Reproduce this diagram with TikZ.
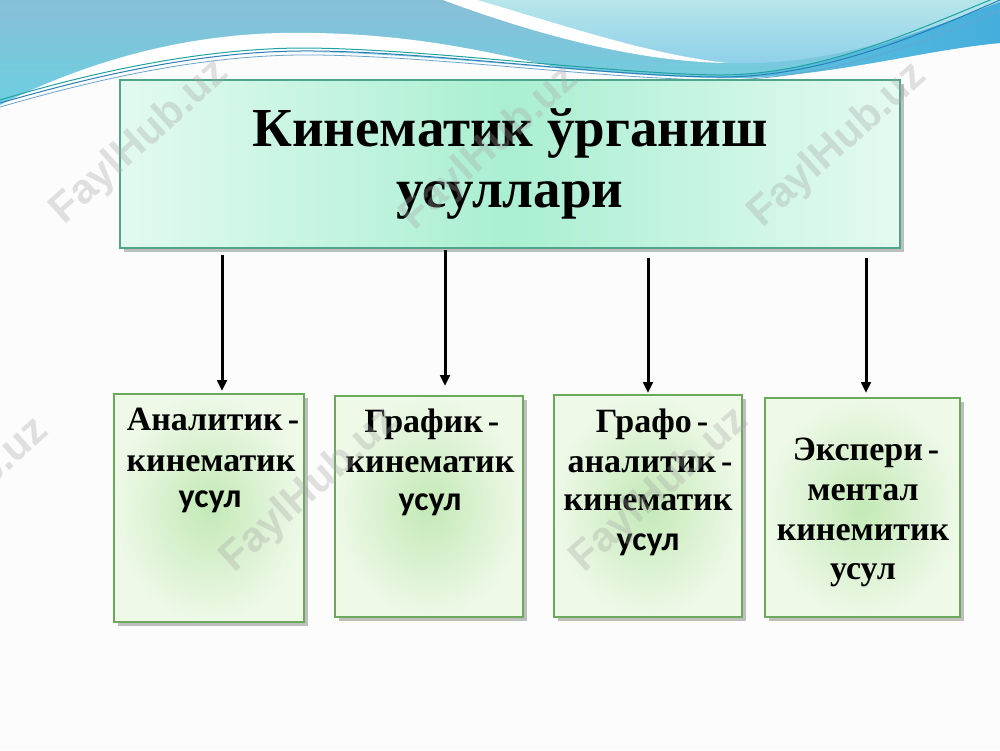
\documentclass[tikz,border=0pt]{standalone}
\usepackage{fontspec}
\setmainfont{Liberation Serif}
\newfontfamily\calfont{Carlito}
\newfontfamily\wmfont{Liberation Sans}
\usetikzlibrary{arrows.meta,shadows}
\definecolor{bgcol}{HTML}{FCFCFC}
\definecolor{waveTop}{HTML}{88BFD8}
\definecolor{waveBot}{HTML}{6CCFE0}
\definecolor{cyanTop}{HTML}{B6E6EA}
\definecolor{cyanBot}{HTML}{8ECFEA}
\definecolor{deepL}{HTML}{62C4DE}
\definecolor{deepR}{HTML}{45AEDC}
\definecolor{lineA}{HTML}{2A7FB8}
\definecolor{lineB}{HTML}{1FA3A0}
\definecolor{mintL}{HTML}{E2FAF0}
\definecolor{mintM}{HTML}{AAEFD2}
\definecolor{mintR}{HTML}{E4FAF1}
\definecolor{titleborder}{HTML}{4FA58A}
\definecolor{boxin}{HTML}{C3E9B6}
\definecolor{boxout}{HTML}{EEF9E8}
\definecolor{boxborder}{HTML}{6AAA5A}
\tikzset{
  titlebox/.style={draw=titleborder, line width=0.8pt, left color=mintL, right color=mintR, middle color=mintM,
    drop shadow={shadow xshift=1.8pt, shadow yshift=-1.8pt, opacity=0.45, fill=black!55}},
  greenbox/.style={draw=boxborder, line width=0.6pt, inner color=boxin, outer color=boxout,
    drop shadow={shadow xshift=1.8pt, shadow yshift=-1.8pt, opacity=0.45, fill=black!55}},
  ttl/.style={font=\fontsize{27.5pt}{30pt}\selectfont\bfseries, anchor=base, inner sep=0pt},
  ser/.style={font=\fontsize{17pt}{20pt}\selectfont\bfseries, anchor=base, inner sep=0pt},
  cal/.style={font=\fontsize{17pt}{20pt}\selectfont\calfont\bfseries, anchor=base, inner sep=0pt},
  arr/.style={line width=1.5pt, -{Triangle[length=5.5pt,width=4.8pt]}},
  wm/.style={font=\fontsize{21pt}{22pt}\selectfont\wmfont\bfseries, text=black!35, opacity=0.33, rotate=42, inner sep=0pt}
}
\begin{document}
\begin{tikzpicture}[x=0.5pt,y=-0.5pt]
\useasboundingbox (0,0) rectangle (1000,750);
\fill[bgcol] (0,0) rectangle (1000,750);
% wave background
\shade[top color=waveTop, bottom color=waveBot]
  (0,0) -- (1000,0) -- (1000,43) .. controls (920,50) and (820,80) .. (717,78)
  .. controls (600,76) and (420,52) .. (300,52) .. controls (180,52) and (60,85) .. (0,105) -- cycle;
\shade[top color=cyanTop, bottom color=cyanBot]
  (465,0) -- (1000,0) -- (1000,3) .. controls (900,40) and (820,66) .. (728,63)
  .. controls (650,55) and (560,25) .. (465,0) -- cycle;
\fill[white] (443,0) -- (477,0) .. controls (560,24) and (650,55) .. (728,63)
  .. controls (640,62) and (540,36) .. (443,0) -- cycle;
\fill[white] (0,105) .. controls (50,80) and (150,36) .. (280,33)
  .. controls (400,31) and (480,50) .. (560,68)
  .. controls (450,58) and (380,51) .. (300,52) .. controls (180,53) and (60,88) .. (0,105) -- cycle;
\shade[left color=deepL, right color=deepR]
  (717,77) .. controls (820,72) and (920,32) .. (1000,2) -- (1000,43)
  .. controls (920,50) and (820,80) .. (717,78) -- cycle;
\draw[lineA, line width=0.5pt] (0,103) .. controls (60,86) and (180,52) .. (300,51)
  .. controls (420,50) and (600,76) .. (717,77) .. controls (820,78) and (920,35) .. (1000,0);
\draw[lineB, line width=0.5pt] (0,100) .. controls (60,82) and (180,49) .. (300,48)
  .. controls (420,48) and (600,73) .. (717,75) .. controls (820,76) and (920,28) .. (1000,-4);
\draw[lineA!70, line width=0.4pt] (0,107) .. controls (60,90) and (180,56) .. (300,55)
  .. controls (420,54) and (600,79) .. (717,80) .. controls (830,80) and (930,40) .. (1000,10);
% title box
\node[titlebox, minimum width=390pt, minimum height=84pt, inner sep=0pt] (title) at (510,164) {};
\node[ttl] (tl1) at (510,146) {Кинематик ўрганиш};
\node[ttl] (tl2) at (510,207) {усуллари};
% boxes
\node[greenbox, minimum width=95pt, minimum height=114pt, inner sep=0pt] (b1) at (209,508) {};
\node[greenbox, minimum width=94pt, minimum height=110.5pt, inner sep=0pt] (b2) at (429,506.5) {};
\node[greenbox, minimum width=94pt, minimum height=111pt, inner sep=0pt] (b3) at (648,506) {};
\node[greenbox, minimum width=97.5pt, minimum height=109.5pt, inner sep=0pt] (b4) at (862.5,507.5) {};
% box texts
\node[ser] (t1a) at (213,430) {Аналитик\hspace{0.15em}-};
\node[ser] (t1b) at (211,471) {кинематик};
\node[cal] (t1c) at (210,507) {усул};
\node[ser] (t2a) at (432,432) {График\hspace{0.15em}-};
\node[ser] (t2b) at (430,472) {кинематик};
\node[cal] (t2c) at (430,510) {усул};
\node[ser] (t3a) at (652,432) {Графо\hspace{0.15em}-};
\node[ser] (t3b) at (650,472) {аналитик\hspace{0.15em}-};
\node[ser] (t3c) at (648,510) {кинематик};
\node[cal] (t3d) at (648,550) {усул};
\node[ser] (t4a) at (866,460) {Экспери\hspace{0.15em}-};
\node[ser] (t4b) at (863,500) {ментал};
\node[ser] (t4c) at (863,540) {кинемитик};
\node[ser] (t4d) at (863,579) {усул};
% arrows
\coordinate (s1) at (222,255); \coordinate (e1) at (222,391);
\coordinate (s2) at (445,250); \coordinate (e2) at (445,386);
\coordinate (s3) at (648,258); \coordinate (e3) at (648,393);
\coordinate (s4) at (866,258); \coordinate (e4) at (866,393);
\draw[arr] (s1) -- (e1);
\draw[arr] (s2) -- (e2);
\draw[arr] (s3) -- (e3);
\draw[arr] (s4) -- (e4);
% watermarks
\node[wm] (w1) at (140,142) {FaylHub.uz};
\node[wm] (w2) at (490,148) {FaylHub.uz};
\node[wm] (w3) at (838,145) {FaylHub.uz};
\node[wm] (w4) at (-40,500) {FaylHub.uz};
\node[wm] (w5) at (310,490) {FaylHub.uz};
\node[wm] (w6) at (660,490) {FaylHub.uz};
\end{tikzpicture}
\end{document}
